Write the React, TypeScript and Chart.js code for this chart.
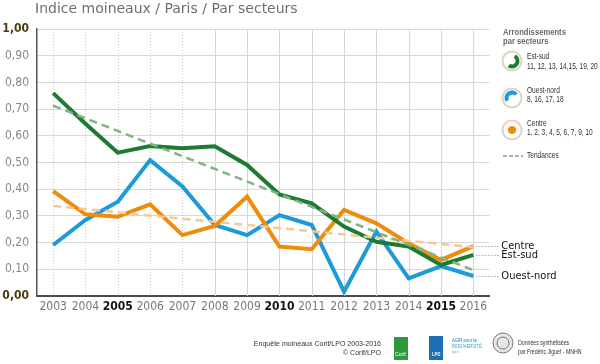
import React, { useEffect, useRef } from "react";
import { Chart, registerables } from "chart.js";

Chart.register(...registerables);

const years = ["2003", "2004", "2005", "2006", "2007", "2008", "2009", "2010", "2011", "2012", "2013", "2014", "2015", "2016"];
const boldYears = ["2005", "2010", "2015"];
const estSud = [0.76, 0.645, 0.537, 0.562, 0.553, 0.561, 0.491, 0.38, 0.347, 0.26, 0.203, 0.185, 0.116, 0.154];
const ouestNord = [0.191, 0.285, 0.353, 0.509, 0.41, 0.266, 0.228, 0.303, 0.266, 0.016, 0.241, 0.066, 0.112, 0.075];
const centre = [0.393, 0.306, 0.297, 0.343, 0.228, 0.262, 0.372, 0.185, 0.175, 0.322, 0.272, 0.197, 0.135, 0.187];
const trendEstSud = [0.713, null, null, null, null, null, null, null, null, null, null, null, null, 0.097];
const trendCentre = [0.337, null, null, null, null, null, null, null, null, null, null, null, null, 0.183];
const yTicks = [0, 0.1, 0.2, 0.3, 0.4, 0.5, 0.6, 0.7, 0.8, 0.9, 1.0];

const GREEN = "#1d7a31";
const BLUE = "#1d9ad8";
const ORANGE = "#ee8d0c";
const NARROW = "'Liberation Sans Narrow', 'DejaVu Sans Condensed', sans-serif";
const LIB = "'Liberation Sans', Arial, sans-serif";

const isEdge = (c: any) => !!(c && c.tick && (c.tick.value === 0 || c.tick.value === 1));
const isBoldYear = (c: any) => !!(c && typeof c.index === "number" && boldYears.includes(years[c.index]));

function condText(ctx: any, text: string, x: number, y: number, sx: number, align: string = "left") {
  ctx.save();
  ctx.translate(x, y);
  ctx.scale(sx, 1);
  ctx.textAlign = align;
  ctx.fillText(text, 0, 0);
  ctx.restore();
}

const extrasPlugin = {
  id: "extras",
  beforeDatasetsDraw(chart: any) {
    const ctx = chart.ctx;
    const x = chart.scales.x;
    const area = chart.chartArea;
    ctx.save();
    years.forEach((yr, i) => {
      const px = Math.round(x.getPixelForValue(i)) + 0.5;
      ctx.beginPath();
      ctx.strokeStyle = i < 5 ? "#c8c8c8" : "#d6d6d6";
      ctx.lineWidth = 1;
      ctx.setLineDash(i < 5 ? [1, 2] : []);
      ctx.moveTo(px, area.top);
      ctx.lineTo(px, area.bottom);
      ctx.stroke();
    });
    ctx.restore();
  },
  afterDraw(chart: any) {
    const ctx = chart.ctx;
    const x = chart.scales.x;
    const y = chart.scales.y;
    ctx.save();
    // title
    ctx.fillStyle = "#6f6f6f";
    ctx.font = "14px 'DejaVu Sans', sans-serif";
    ctx.textBaseline = "alphabetic";
    ctx.textAlign = "left";
    ctx.fillText("Indice moineaux / Paris / Par secteurs", 35, 13);

    // legend
    ctx.fillStyle = "#6a6a6a";
    ctx.font = "bold 9px " + LIB;
    ctx.textBaseline = "middle";
    condText(ctx, "Arrondissements", 503, 33, 0.85);
    condText(ctx, "par secteurs", 503, 42, 0.85);

    const ring = (cx: number, cy: number) => {
      ctx.beginPath();
      ctx.setLineDash([]);
      ctx.arc(cx, cy, 9.5, 0, Math.PI * 2);
      ctx.fillStyle = "#ffffff";
      ctx.fill();
      ctx.strokeStyle = "#ddd4c6";
      ctx.lineWidth = 2;
      ctx.stroke();
    };
    const deg = Math.PI / 180;
    ring(512, 61);
    ctx.beginPath();
    ctx.arc(512, 61, 5.5, -60 * deg, 125 * deg);
    ctx.strokeStyle = GREEN;
    ctx.lineWidth = 4;
    ctx.stroke();
    ring(512, 98);
    ctx.beginPath();
    ctx.arc(512, 98, 5.5, 150 * deg, 320 * deg);
    ctx.strokeStyle = BLUE;
    ctx.lineWidth = 4;
    ctx.stroke();
    ring(512, 130);
    ctx.beginPath();
    ctx.arc(512, 130, 4, 0, Math.PI * 2);
    ctx.fillStyle = ORANGE;
    ctx.fill();

    ctx.fillStyle = "#333";
    ctx.font = "9px " + LIB;
    const s = 0.73;
    condText(ctx, "Est-sud", 527, 57, s);
    condText(ctx, "11, 12, 13, 14,15, 19, 20", 527, 66.5, s);
    condText(ctx, "Ouest-nord", 527, 91, s);
    condText(ctx, "8, 16, 17, 18", 527, 100, s);
    condText(ctx, "Centre", 527, 124, s);
    condText(ctx, "1, 2, 3, 4, 5, 6, 7, 9, 10", 527, 132.5, s);
    condText(ctx, "Tendances", 527, 156, s);
    ctx.beginPath();
    ctx.setLineDash([4, 2]);
    ctx.strokeStyle = "#a8b8a8";
    ctx.lineWidth = 2;
    ctx.moveTo(503, 156);
    ctx.lineTo(523, 156);
    ctx.stroke();

    // end labels
    const lastI = years.length - 1;
    const lx = x.getPixelForValue(lastI) + 3;
    const ends: [string, number][] = [
      ["Centre", centre[lastI]],
      ["Est-sud", estSud[lastI]],
      ["Ouest-nord", ouestNord[lastI]],
    ];
    ctx.font = "11px " + NARROW;
    ends.forEach(([name, v]) => {
      const py = Math.round(y.getPixelForValue(v)) + 0.5;
      ctx.beginPath();
      ctx.setLineDash([1, 2]);
      ctx.strokeStyle = "#888";
      ctx.lineWidth = 1;
      ctx.moveTo(lx, py);
      ctx.lineTo(lx + 22, py);
      ctx.stroke();
      ctx.fillStyle = "#111";
      ctx.fillText(name, lx + 25, py - 0.5);
    });

    // footer
    ctx.setLineDash([]);
    ctx.fillStyle = "#333";
    ctx.font = "8px " + LIB;
    condText(ctx, "Enquête moineaux Corif/LPO 2003-2016", 381, 344, 0.88, "right");
    condText(ctx, "© Corif/LPO", 381, 353, 0.88, "right");
    ctx.fillStyle = "#2f9a3c";
    ctx.fillRect(394, 337, 14, 23);
    ctx.fillStyle = "#fff";
    ctx.font = "6px " + LIB;
    condText(ctx, "Corif", 395, 354, 0.85);
    ctx.fillStyle = "#1a6fb5";
    ctx.fillRect(429, 336, 14, 24);
    ctx.fillStyle = "#fff";
    ctx.font = "bold 4.5px " + LIB;
    condText(ctx, "LPO", 432, 355, 0.9);
    ctx.fillStyle = "#1a6fb5";
    ctx.font = "5px " + LIB;
    condText(ctx, "AGIR pour la", 452, 341, 0.85);
    ctx.fillStyle = "#3a9fd8";
    condText(ctx, "BIODIVERSITÉ", 452, 347, 0.85);
    ctx.fillStyle = "#999";
    ctx.font = "3.5px " + LIB;
    condText(ctx, "lpo.fr", 452, 352, 0.9);
    ctx.beginPath();
    ctx.arc(503, 343, 10, 0, Math.PI * 2);
    ctx.fillStyle = "#e6e6e6";
    ctx.fill();
    ctx.strokeStyle = "#777";
    ctx.lineWidth = 1;
    ctx.stroke();
    ctx.beginPath();
    ctx.arc(503, 343, 6, 0, Math.PI * 2);
    ctx.stroke();
    ctx.fillStyle = "#333";
    ctx.font = "6.5px " + LIB;
    condText(ctx, "Données synthétisées", 518, 343, 0.8);
    condText(ctx, "par Frédéric Jiguet - MNHN", 518, 352, 0.8);
    ctx.restore();
  },
};

export default function App() {
  const ref = useRef<HTMLCanvasElement | null>(null);
  useEffect(() => {
    if (!ref.current) return;
    const chart = new Chart(ref.current, {
      type: "line",
      data: {
        labels: years,
        datasets: [
          { label: "Ouest-nord", data: ouestNord, borderColor: BLUE, borderWidth: 4, pointRadius: 0, tension: 0, order: 3 },
          { label: "Centre", data: centre, borderColor: ORANGE, borderWidth: 4, pointRadius: 0, tension: 0, order: 2 },
          { label: "Est-sud", data: estSud, borderColor: GREEN, borderWidth: 4, pointRadius: 0, tension: 0, order: 1 },
          { label: "Tendance Est-sud", data: trendEstSud, borderColor: "#82b482", borderWidth: 2.5, borderDash: [8, 5], pointRadius: 0, spanGaps: true, order: 0 },
          { label: "Tendance Centre", data: trendCentre, borderColor: "#f6c797", borderWidth: 2.5, borderDash: [8, 5], pointRadius: 0, spanGaps: true, order: 0 },
        ],
      },
      options: {
        responsive: false,
        animation: false,
        layout: { padding: { top: 29, left: 0, right: 110.5, bottom: 44 } },
        plugins: { legend: { display: false }, tooltip: { enabled: false }, title: { display: false } },
        scales: {
          x: {
            offset: true,
            grid: { display: false, drawTicks: false },
            border: { color: "#4a4a4a", width: 2 },
            afterFit: (s: any) => { s.height = 24; },
            ticks: {
              padding: 4,
              maxRotation: 0,
              autoSkip: false,
              color: (c: any) => (isBoldYear(c) ? "#111" : "#777"),
              font: (c: any) => ({ family: NARROW, size: 12, weight: isBoldYear(c) ? "bold" : "normal" }),
            },
          },
          y: {
            min: 0,
            max: 1,
            afterFit: (s: any) => { s.width = 37; },
            afterBuildTicks: (s: any) => { s.ticks = yTicks.map((v) => ({ value: v })); },
            grid: { color: "#d9d9d9", lineWidth: 1, drawTicks: false },
            border: { color: "#555", width: 1.5 },
            ticks: {
              padding: 8,
              callback: (v: any) => Number(v).toFixed(2).replace(".", ","),
              color: (c: any) => (isEdge(c) ? "#4a3a0e" : "#888"),
              font: (c: any) => ({ family: NARROW, size: 12, weight: isEdge(c) ? "bold" : "normal" }),
            },
          },
        },
      },
      plugins: [extrasPlugin],
    });
    return () => chart.destroy();
  }, []);
  return (
    <div style={{ position: "fixed", left: 0, top: 0, width: 600, height: 364, background: "#fff" }}>
      <canvas ref={ref} width={600} height={364} style={{ display: "block" }} />
    </div>
  );
}
